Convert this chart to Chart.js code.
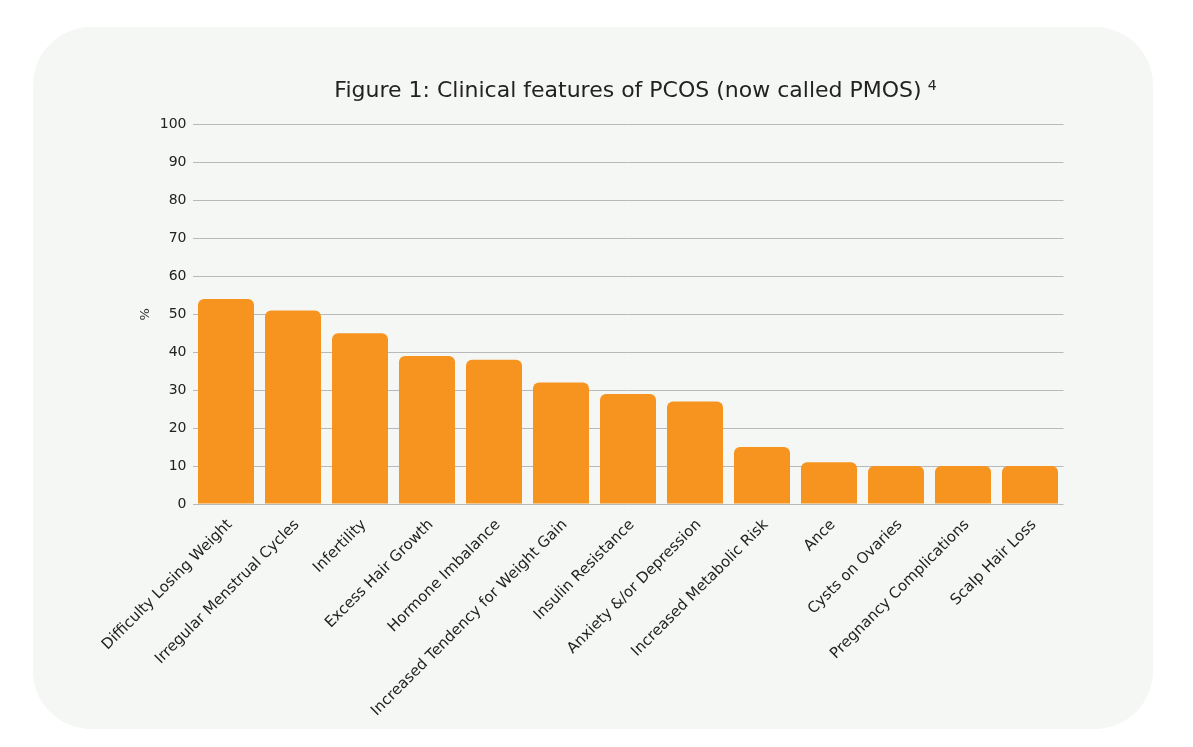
<!DOCTYPE html>
<html>
<head>
<meta charset="utf-8">
<script src="https://cdn.jsdelivr.net/npm/chart.js@4"></script>
<style>
  body { margin: 0; background: #ffffff; }
  #card {
    position: absolute; left: 33px; top: 27px; width: 1120px; height: 702px;
    border-radius: 58px; background: #f5f7f4;
  }
  #wrap { position: absolute; left: 40px; top: 60px; width: 1130px; height: 664px; }
</style>
</head>
<body>
<div id="card"></div>
<div id="wrap"><canvas id="featureChart"></canvas></div>
<script>
const features = [
    'Difficulty Losing Weight', 'Irregular Menstrual Cycles', 'Infertility',
    'Excess Hair Growth', 'Hormone Imbalance', 'Increased Tendency for Weight Gain',
    'Insulin Resistance', 'Anxiety &/or Depression', 'Increased Metabolic Risk',
    'Ance', 'Cysts on Ovaries', 'Pregnancy Complications', 'Scalp Hair Loss'
];
const percentages = [54, 51, 45, 39, 38, 32, 29, 27, 15, 11, 10, 10, 10];
const yTicks = [0, 10, 20, 30, 40, 50, 60, 70, 80, 90, 100];

const fontFamily = "'DejaVu Sans', sans-serif";
const titleText = 'Figure 1: Clinical features of PCOS (now called PMOS)';
const footnoteMark = '4';

// draws the footnote number raised after the title
const footnotePlugin = {
    id: 'footnote',
    afterDraw(chart) {
        const block = chart.titleBlock;
        if (!block) return;
        const ctx = chart.ctx;
        ctx.save();
        ctx.font = "22px " + fontFamily;
        const w = ctx.measureText(titleText).width;
        const cx = (block.left + block.right) / 2;
        ctx.font = "14px " + fontFamily;
        ctx.fillStyle = '#222222';
        ctx.textAlign = 'left';
        ctx.textBaseline = 'alphabetic';
        ctx.fillText(footnoteMark, cx + w / 2 + 6, block.top + 30);
        ctx.restore();
    }
};

new Chart(document.getElementById('featureChart'), {
    type: 'bar',
    data: {
        labels: features,
        datasets: [{
            label: '%',
            data: percentages,
            backgroundColor: '#f7941f',
            borderRadius: { topLeft: 6, topRight: 6 },
            borderSkipped: 'bottom',
            categoryPercentage: 1,
            barPercentage: 0.836
        }]
    },
    plugins: [footnotePlugin],
    options: {
        responsive: true,
        maintainAspectRatio: false,
        animation: false,
        layout: { padding: { left: 0, right: 106.5, top: 0, bottom: 0 } },
        plugins: {
            legend: { display: false },
            tooltip: { enabled: false },
            title: {
                display: true,
                fullSize: false,
                text: titleText,
                color: '#222222',
                font: { family: fontFamily, size: 22, weight: '400' },
                padding: { top: 18, bottom: 20 }
            }
        },
        scales: {
            x: {
                grid: { display: false },
                border: { display: false },
                ticks: {
                    color: '#222222',
                    font: { family: fontFamily, size: 15 },
                    minRotation: 45,
                    maxRotation: 45,
                    padding: 4,
                    labelOffset: 4,
                    autoSkip: false
                },
                afterFit: function(scale) { scale.height = 220; }
            },
            y: {
                min: 0,
                max: 100,
                afterBuildTicks: function(scale) {
                    scale.ticks = yTicks.map(v => ({ value: v }));
                },
                grid: { color: '#b9b9b9', lineWidth: 1, drawTicks: false },
                border: { display: false },
                ticks: {
                    color: '#222222',
                    font: { family: fontFamily, size: 14 },
                    padding: 6
                },
                title: {
                    display: true,
                    text: '%',
                    color: '#333333',
                    font: { family: fontFamily, size: 13 },
                    padding: { top: 98, bottom: 0 }
                },
                afterFit: function(scale) { scale.width = 152.5; }
            }
        }
    }
});
</script>
</body>
</html>
